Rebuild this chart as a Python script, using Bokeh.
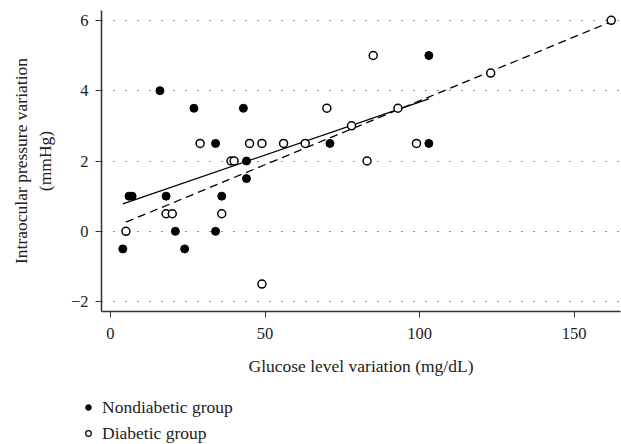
from bokeh.plotting import figure
from bokeh.layouts import column, row
from bokeh.models import Range1d, FixedTicker, Legend, LegendItem
from bokeh.embed import file_html
from bokeh.resources import INLINE

# Nondiabetic group (filled)
non_x = [4, 6, 7, 16, 18, 21, 24, 27, 34, 34, 36, 43, 44, 44, 71, 103, 103]
non_y = [-0.5, 1, 1, 4, 1, 0, -0.5, 3.5, 2.5, 0, 1, 3.5, 2, 1.5, 2.5, 5, 2.5]

# Diabetic group (open)
dia_x = [5, 18, 20, 29, 36, 39, 40, 45, 49, 49, 56, 63, 70, 78, 83, 85, 93, 99, 123, 162]
dia_y = [0, 0.5, 0.5, 2.5, 0.5, 2, 2, 2.5, 2.5, -1.5, 2.5, 2.5, 3.5, 3, 2, 5, 3.5, 2.5, 4.5, 6]

# Regression lines (endpoints)
non_fit_x = [4, 103]
non_fit_y = [0.78, 3.77]
dia_fit_x = [5, 163]
dia_fit_y = [0.26, 6.0]

x_ticks = [0, 50, 100, 150]
y_ticks = [-2, 0, 2, 4, 6]

FONT = "Liberation Serif"

p = figure(width=621, height=382, x_range=Range1d(-2.9, 165), y_range=Range1d(-2.28, 6.28),
           output_backend="svg", toolbar_location=None,
           min_border_left=101, min_border_right=1, min_border_top=10, min_border_bottom=71)
p.outline_line_color = None
p.background_fill_color = "white"

p.xgrid.grid_line_color = None
p.ygrid.ticker = FixedTicker(ticks=y_ticks)
p.ygrid.grid_line_color = "#222222"
p.ygrid.grid_line_dash = "1 11"
p.ygrid.grid_line_width = 1

for ax in (p.xaxis[0], p.yaxis[0]):
    ax.axis_line_color = "#333333"
    ax.axis_line_width = 1.5
    ax.major_tick_line_color = "#333333"
    ax.major_tick_out = 6
    ax.major_tick_in = 0
    ax.minor_tick_line_color = None
    ax.major_label_text_font = FONT
    ax.major_label_text_font_size = "16.5px"
    ax.major_label_text_color = "#222222"
    ax.axis_label_text_font = FONT
    ax.axis_label_text_font_size = "17.5px"
    ax.axis_label_text_font_style = "normal"
    ax.axis_label_text_color = "#222222"
    ax.major_label_standoff = 7

p.xaxis[0].ticker = FixedTicker(ticks=x_ticks)
p.yaxis[0].ticker = FixedTicker(ticks=y_ticks)
p.yaxis[0].major_label_overrides = {-2: "\u22122"}
p.xaxis[0].axis_label = "Glucose level variation (mg/dL)"
p.yaxis[0].axis_label = "Intraocular pressure variation\n(mmHg)"
p.xaxis[0].major_label_standoff = 10
p.xaxis[0].axis_label_standoff = 14
p.yaxis[0].axis_label_standoff = 13

p.line(non_fit_x, non_fit_y, line_color="black", line_width=1.3)
p.line(dia_fit_x, dia_fit_y, line_color="black", line_width=1.3, line_dash="8 5")

p.scatter(non_x, non_y, size=8, marker="circle", fill_color="black", line_color="black")
p.scatter(dia_x, dia_y, size=8, marker="circle", fill_color="white", line_color="black", line_width=1.5)

# Legend panel below the chart (same data, kept out of view; only the legend shows)
p2 = figure(width=621, height=62, x_range=Range1d(-30, -20), y_range=Range1d(-30, -20),
            x_axis_type=None, y_axis_type=None, output_backend="svg", toolbar_location=None,
            min_border=0, min_border_left=0)
p2.outline_line_color = None
p2.xgrid.grid_line_color = None
p2.ygrid.grid_line_color = None
l_non = p2.scatter(non_x, non_y, marker="circle", size=6, fill_color="black", line_color="black")
l_dia = p2.scatter(dia_x, dia_y, marker="circle", size=6, fill_color="white", line_color="black", line_width=1.2)

legend = Legend(items=[LegendItem(label="Nondiabetic group", renderers=[l_non]),
                       LegendItem(label="Diabetic group", renderers=[l_dia])],
                orientation="vertical", location=(81, 0))
legend.border_line_color = None
legend.background_fill_alpha = 0
legend.label_text_font = FONT
legend.label_text_font_size = "17.5px"
legend.label_text_color = "#222222"
legend.glyph_width = 14
legend.glyph_height = 14
legend.spacing = 4
legend.padding = 0
legend.margin = 0
legend.label_standoff = 7
legend.label_height = 22
p2.add_layout(legend)

layout = column(p, row(p2), spacing=0)
open("out.html", "w").write(file_html(layout, INLINE))
